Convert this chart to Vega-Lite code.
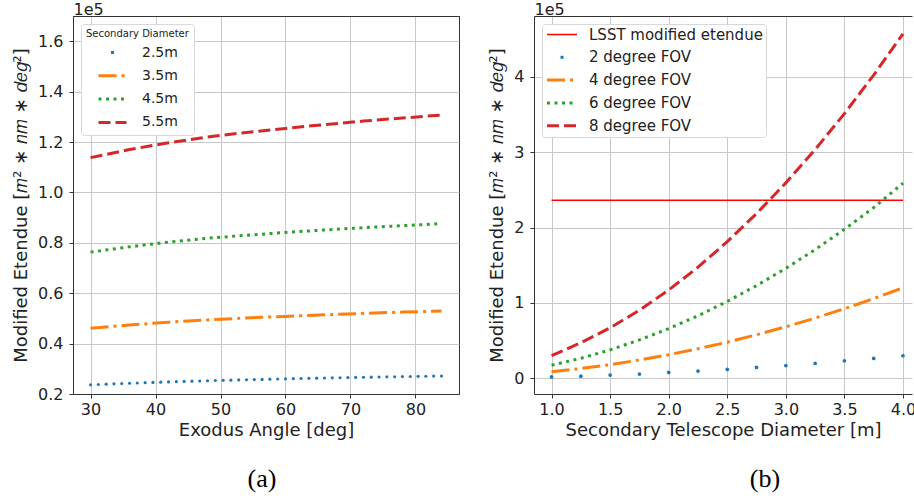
{
  "$schema": "https://vega.github.io/schema/vega-lite/v6.json",
  "background": "white",
  "padding": {"left": 12, "top": 0, "right": 0, "bottom": 0},
  "spacing": 28,
  "resolve": {"scale": {"color": "independent", "strokeDash": "independent"}, "legend": {"color": "independent", "strokeDash": "independent"}},
  "config": {
    "font": "DejaVu Sans",
    "view": {"stroke": "#333333", "strokeWidth": 1},
    "axis": {
      "grid": true, "gridColor": "#c8c8c8", "gridWidth": 1,
      "domainColor": "#333333", "tickColor": "#333333", "tickSize": 4,
      "labelFontSize": 16, "labelColor": "#222222",
      "titleFontSize": 18, "titleFontWeight": "normal", "titleColor": "#222222"
    },
    "axisX": {"labelPadding": 3, "titlePadding": 4},
    "axisY": {"labelPadding": 6, "titlePadding": 7},
    "legend": {
      "orient": "top-left", "offset": 8, "fillColor": "white", "strokeColor": "#d8d8d8",
      "cornerRadius": 3, "labelColor": "#222222", "labelLimit": 300,
      "titleFontWeight": "normal", "titleColor": "#222222",
      "symbolType": "M-2,0H2", "symbolStrokeWidth": 3, "symbolOpacity": 1
    }
  },
  "hconcat": [
    {
      "width": 386, "height": 378,
      "title": {"text": "(a)", "orient": "bottom", "font": "Liberation Serif", "fontSize": 26, "fontWeight": "normal", "color": "#000000", "offset": 27, "dx": -4},
      "data": {"values": [
        {"s": "3.5m", "a": 30, "v": 0.461}, {"s": "3.5m", "a": 36, "v": 0.474}, {"s": "3.5m", "a": 42, "v": 0.485}, {"s": "3.5m", "a": 48, "v": 0.494}, {"s": "3.5m", "a": 54, "v": 0.502},
        {"s": "3.5m", "a": 60, "v": 0.508}, {"s": "3.5m", "a": 66, "v": 0.514}, {"s": "3.5m", "a": 72, "v": 0.52}, {"s": "3.5m", "a": 78, "v": 0.525}, {"s": "3.5m", "a": 84, "v": 0.529},
        {"s": "4.5m", "a": 30, "v": 0.763}, {"s": "4.5m", "a": 36, "v": 0.784}, {"s": "4.5m", "a": 42, "v": 0.803}, {"s": "4.5m", "a": 48, "v": 0.818}, {"s": "4.5m", "a": 54, "v": 0.83},
        {"s": "4.5m", "a": 60, "v": 0.841}, {"s": "4.5m", "a": 66, "v": 0.851}, {"s": "4.5m", "a": 72, "v": 0.86}, {"s": "4.5m", "a": 78, "v": 0.868}, {"s": "4.5m", "a": 84, "v": 0.876},
        {"s": "5.5m", "a": 30, "v": 1.138}, {"s": "5.5m", "a": 36, "v": 1.17}, {"s": "5.5m", "a": 42, "v": 1.197}, {"s": "5.5m", "a": 48, "v": 1.22}, {"s": "5.5m", "a": 54, "v": 1.238},
        {"s": "5.5m", "a": 60, "v": 1.254}, {"s": "5.5m", "a": 66, "v": 1.269}, {"s": "5.5m", "a": 72, "v": 1.283}, {"s": "5.5m", "a": 78, "v": 1.295}, {"s": "5.5m", "a": 84, "v": 1.307},
        {"s": "2.5m", "a": 30, "v": 0.2365}, {"s": "2.5m", "a": 31.2, "v": 0.2378}, {"s": "2.5m", "a": 32.4, "v": 0.2391}, {"s": "2.5m", "a": 33.6, "v": 0.2404}, {"s": "2.5m", "a": 34.8, "v": 0.2416},
        {"s": "2.5m", "a": 36, "v": 0.2427}, {"s": "2.5m", "a": 37.2, "v": 0.2438}, {"s": "2.5m", "a": 38.4, "v": 0.2449}, {"s": "2.5m", "a": 39.6, "v": 0.246}, {"s": "2.5m", "a": 40.8, "v": 0.247},
        {"s": "2.5m", "a": 42, "v": 0.248}, {"s": "2.5m", "a": 43.2, "v": 0.2489}, {"s": "2.5m", "a": 44.4, "v": 0.2499}, {"s": "2.5m", "a": 45.6, "v": 0.2508}, {"s": "2.5m", "a": 46.8, "v": 0.2517},
        {"s": "2.5m", "a": 48, "v": 0.2525}, {"s": "2.5m", "a": 49.2, "v": 0.2534}, {"s": "2.5m", "a": 50.4, "v": 0.2542}, {"s": "2.5m", "a": 51.6, "v": 0.255}, {"s": "2.5m", "a": 52.8, "v": 0.2558},
        {"s": "2.5m", "a": 54, "v": 0.2566}, {"s": "2.5m", "a": 55.2, "v": 0.2573}, {"s": "2.5m", "a": 56.4, "v": 0.258}, {"s": "2.5m", "a": 57.6, "v": 0.2588}, {"s": "2.5m", "a": 58.8, "v": 0.2594},
        {"s": "2.5m", "a": 60, "v": 0.2601}, {"s": "2.5m", "a": 61.2, "v": 0.2608}, {"s": "2.5m", "a": 62.4, "v": 0.2615}, {"s": "2.5m", "a": 63.6, "v": 0.2621}, {"s": "2.5m", "a": 64.8, "v": 0.2627},
        {"s": "2.5m", "a": 66, "v": 0.2634}, {"s": "2.5m", "a": 67.2, "v": 0.264}, {"s": "2.5m", "a": 68.4, "v": 0.2646}, {"s": "2.5m", "a": 69.6, "v": 0.2652}, {"s": "2.5m", "a": 70.8, "v": 0.2658},
        {"s": "2.5m", "a": 72, "v": 0.2663}, {"s": "2.5m", "a": 73.2, "v": 0.2669}, {"s": "2.5m", "a": 74.4, "v": 0.2675}, {"s": "2.5m", "a": 75.6, "v": 0.268}, {"s": "2.5m", "a": 76.8, "v": 0.2685},
        {"s": "2.5m", "a": 78, "v": 0.2691}, {"s": "2.5m", "a": 79.2, "v": 0.2696}, {"s": "2.5m", "a": 80.4, "v": 0.2701}, {"s": "2.5m", "a": 81.6, "v": 0.2706}, {"s": "2.5m", "a": 82.8, "v": 0.2711},
        {"s": "2.5m", "a": 84, "v": 0.2716}
      ]},
      "layer": [
        {
          "transform": [{"filter": "datum.s !== '2.5m'"}],
          "mark": {"type": "line", "strokeWidth": 3},
          "encoding": {
            "x": {"field": "a", "type": "quantitative", "scale": {"domain": [27.3, 86.7], "nice": false, "zero": false},
                  "axis": {"values": [30, 40, 50, 60, 70, 80], "title": "Exodus Angle [deg]"}},
            "y": {"field": "v", "type": "quantitative", "scale": {"domain": [0.2, 1.7], "nice": false, "zero": false},
                  "axis": {"values": [0.2, 0.4, 0.6, 0.8, 1.0, 1.2, 1.4, 1.6], "format": ".1f", "title": "Modified Etendue [𝑚² ∗ 𝑛𝑚 ∗ 𝑑𝑒𝑔²]"}},
            "color": {"field": "s", "type": "nominal",
                      "scale": {"domain": ["2.5m", "3.5m", "4.5m", "5.5m"], "range": ["#1f77b4", "#ff7f0e", "#2ca02c", "#d62728"]},
                      "legend": {"title": "Secondary Diameter", "titleFontSize": 10, "titlePadding": 5, "padding": 5,
                                 "labelFontSize": 14, "symbolSize": 196, "rowPadding": 7.3, "symbolOffset": 18, "labelOffset": 21,
                                 "encode": {"symbols": {"update": {"strokeDashOffset": {"signal": "datum.value === '2.5m' ? -12.5 : 0"}}}}}},
            "strokeDash": {"field": "s", "type": "nominal",
                           "scale": {"domain": ["2.5m", "3.5m", "4.5m", "5.5m"], "range": [[3, 100], [18, 5, 3, 5], [3, 4.5], [12, 5]]},
                           "legend": {"title": "Secondary Diameter", "titleFontSize": 10, "titlePadding": 5, "padding": 5,
                                      "labelFontSize": 14, "symbolSize": 196, "rowPadding": 7.3, "symbolOffset": 18, "labelOffset": 21,
                                      "encode": {"symbols": {"update": {"strokeDashOffset": {"signal": "datum.value === '2.5m' ? -12.5 : 0"}}}}}}
          }
        },
        {
          "transform": [{"filter": "datum.s === '2.5m'"}],
          "mark": {"type": "point", "filled": true, "size": 10, "color": "#1f77b4", "opacity": 1},
          "encoding": {
            "x": {"field": "a", "type": "quantitative", "axis": null},
            "y": {"field": "v", "type": "quantitative"}
          }
        },
        {
          "mark": {"type": "point", "opacity": 0},
          "encoding": {
            "x": {"field": "a", "type": "quantitative",
                  "axis": {"orient": "top", "labels": false, "ticks": false, "grid": false, "domain": true,
                           "title": "1e5", "titleAnchor": "start", "titleAlign": "left", "titleX": 0, "titleY": -2, "titleBaseline": "alphabetic", "titleFontSize": 16, "titlePadding": 0}}
          }
        }
      ],
      "resolve": {"axis": {"x": "independent"}}
    },
    {
      "width": 378, "height": 378,
      "view": {"stroke": null},
      "title": {"text": "(b)", "orient": "bottom", "font": "Liberation Serif", "fontSize": 26, "fontWeight": "normal", "color": "#000000", "offset": 27, "dx": 42},
      "data": {"values": [
        {"s": "LSST modified etendue", "d": 1.0, "v": 2.364}, {"s": "LSST modified etendue", "d": 4.0, "v": 2.364},
        {"s": "2 degree FOV", "d": 1.0, "v": 0.016}, {"s": "2 degree FOV", "d": 1.25, "v": 0.026}, {"s": "2 degree FOV", "d": 1.5, "v": 0.041}, {"s": "2 degree FOV", "d": 1.75, "v": 0.055},
        {"s": "2 degree FOV", "d": 2.0, "v": 0.076}, {"s": "2 degree FOV", "d": 2.25, "v": 0.094}, {"s": "2 degree FOV", "d": 2.5, "v": 0.117}, {"s": "2 degree FOV", "d": 2.75, "v": 0.142},
        {"s": "2 degree FOV", "d": 3.0, "v": 0.168}, {"s": "2 degree FOV", "d": 3.25, "v": 0.196}, {"s": "2 degree FOV", "d": 3.5, "v": 0.23}, {"s": "2 degree FOV", "d": 3.75, "v": 0.262},
        {"s": "2 degree FOV", "d": 4.0, "v": 0.298},
        {"s": "4 degree FOV", "d": 1.0, "v": 0.085}, {"s": "4 degree FOV", "d": 1.25, "v": 0.128}, {"s": "4 degree FOV", "d": 1.5, "v": 0.18}, {"s": "4 degree FOV", "d": 1.75, "v": 0.241},
        {"s": "4 degree FOV", "d": 2.0, "v": 0.311}, {"s": "4 degree FOV", "d": 2.25, "v": 0.391}, {"s": "4 degree FOV", "d": 2.5, "v": 0.478}, {"s": "4 degree FOV", "d": 2.75, "v": 0.577},
        {"s": "4 degree FOV", "d": 3.0, "v": 0.683}, {"s": "4 degree FOV", "d": 3.25, "v": 0.798}, {"s": "4 degree FOV", "d": 3.5, "v": 0.923}, {"s": "4 degree FOV", "d": 3.75, "v": 1.057},
        {"s": "4 degree FOV", "d": 4.0, "v": 1.2},
        {"s": "6 degree FOV", "d": 1.0, "v": 0.172}, {"s": "6 degree FOV", "d": 1.25, "v": 0.264}, {"s": "6 degree FOV", "d": 1.5, "v": 0.376}, {"s": "6 degree FOV", "d": 1.75, "v": 0.508},
        {"s": "6 degree FOV", "d": 2.0, "v": 0.659}, {"s": "6 degree FOV", "d": 2.25, "v": 0.829}, {"s": "6 degree FOV", "d": 2.5, "v": 1.02}, {"s": "6 degree FOV", "d": 2.75, "v": 1.23},
        {"s": "6 degree FOV", "d": 3.0, "v": 1.459}, {"s": "6 degree FOV", "d": 3.25, "v": 1.708}, {"s": "6 degree FOV", "d": 3.5, "v": 1.977}, {"s": "6 degree FOV", "d": 3.75, "v": 2.265},
        {"s": "6 degree FOV", "d": 4.0, "v": 2.59},
        {"s": "8 degree FOV", "d": 1.0, "v": 0.3}, {"s": "8 degree FOV", "d": 1.25, "v": 0.47}, {"s": "8 degree FOV", "d": 1.5, "v": 0.669}, {"s": "8 degree FOV", "d": 1.75, "v": 0.903},
        {"s": "8 degree FOV", "d": 2.0, "v": 1.171}, {"s": "8 degree FOV", "d": 2.25, "v": 1.474}, {"s": "8 degree FOV", "d": 2.5, "v": 1.813}, {"s": "8 degree FOV", "d": 2.75, "v": 2.186},
        {"s": "8 degree FOV", "d": 3.0, "v": 2.594}, {"s": "8 degree FOV", "d": 3.25, "v": 3.036}, {"s": "8 degree FOV", "d": 3.5, "v": 3.514}, {"s": "8 degree FOV", "d": 3.75, "v": 4.026},
        {"s": "8 degree FOV", "d": 4.0, "v": 4.574}
      ]},
      "layer": [
        {
          "transform": [{"filter": "datum.s === 'LSST modified etendue'"}],
          "mark": {"type": "line", "strokeWidth": 1.6},
          "encoding": {
            "x": {"field": "d", "type": "quantitative", "scale": {"domain": [0.85, 4.077], "nice": false, "zero": false},
                  "axis": {"values": [1.0, 1.5, 2.0, 2.5, 3.0, 3.5, 4.0], "format": ".1f", "title": "Secondary Telescope Diameter [m]"}},
            "y": {"field": "v", "type": "quantitative", "scale": {"domain": [-0.21, 4.81], "nice": false, "zero": false},
                  "axis": {"values": [0, 1, 2, 3, 4], "format": "d", "title": "Modified Etendue [𝑚² ∗ 𝑛𝑚 ∗ 𝑑𝑒𝑔²]"}},
            "color": {"field": "s", "type": "nominal",
                      "scale": {"domain": ["LSST modified etendue", "2 degree FOV", "4 degree FOV", "6 degree FOV", "8 degree FOV"],
                                "range": ["#ff0000", "#1f77b4", "#ff7f0e", "#2ca02c", "#d62728"]},
                      "legend": {"title": null, "padding": 3, "labelFontSize": 15, "symbolSize": 225, "rowPadding": 6.8, "symbolOffset": 9.5, "labelOffset": 19.5,
                                 "encode": {"symbols": {"update": {
                                   "strokeDashOffset": {"signal": "datum.value === '2 degree FOV' ? -13.5 : 0"},
                                   "strokeWidth": {"signal": "datum.value === 'LSST modified etendue' ? 1.6 : 3"}}}}}},
            "strokeDash": {"field": "s", "type": "nominal",
                           "scale": {"domain": ["LSST modified etendue", "2 degree FOV", "4 degree FOV", "6 degree FOV", "8 degree FOV"],
                                     "range": [[1, 0], [3, 100], [18, 5, 3, 5], [3, 4.5], [12, 5]]},
                           "legend": {"title": null, "padding": 3, "labelFontSize": 15, "symbolSize": 225, "rowPadding": 6.8, "symbolOffset": 9.5, "labelOffset": 19.5,
                                      "encode": {"symbols": {"update": {
                                        "strokeDashOffset": {"signal": "datum.value === '2 degree FOV' ? -13.5 : 0"},
                                        "strokeWidth": {"signal": "datum.value === 'LSST modified etendue' ? 1.6 : 3"}}}}}}
          }
        },
        {
          "transform": [{"filter": "datum.s !== 'LSST modified etendue' && datum.s !== '2 degree FOV'"}],
          "mark": {"type": "line", "strokeWidth": 3},
          "encoding": {
            "x": {"field": "d", "type": "quantitative", "axis": null},
            "y": {"field": "v", "type": "quantitative"},
            "color": {"field": "s", "type": "nominal"},
            "strokeDash": {"field": "s", "type": "nominal"}
          }
        },
        {
          "transform": [{"filter": "datum.s === '2 degree FOV'"}],
          "mark": {"type": "point", "filled": true, "size": 14, "color": "#1f77b4", "opacity": 1},
          "encoding": {
            "x": {"field": "d", "type": "quantitative", "axis": null},
            "y": {"field": "v", "type": "quantitative"}
          }
        },
        {
          "mark": {"type": "point", "opacity": 0},
          "encoding": {
            "x": {"field": "d", "type": "quantitative",
                  "axis": {"orient": "top", "labels": false, "ticks": false, "grid": false, "domain": true,
                           "title": "1e5", "titleAnchor": "start", "titleAlign": "left", "titleX": 0, "titleY": -2, "titleBaseline": "alphabetic", "titleFontSize": 16, "titlePadding": 0}}
          }
        }
      ],
      "resolve": {"axis": {"x": "independent"}}
    }
  ]
}
